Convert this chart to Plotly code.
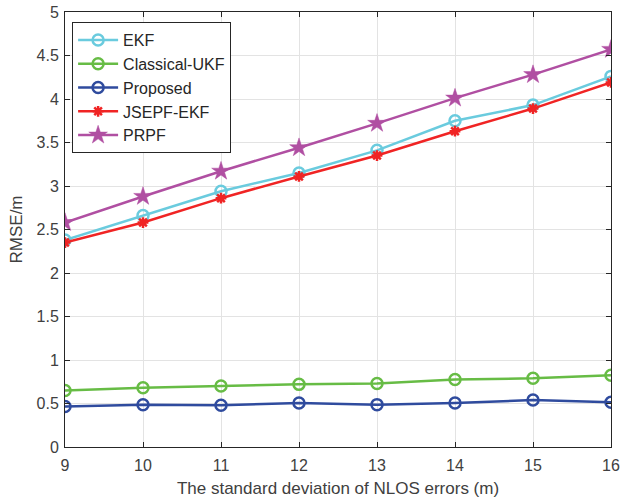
import plotly.graph_objects as go

x_vals = [9, 10, 11, 12, 13, 14, 15, 16]
ekf = [2.38, 2.66, 2.94, 3.15, 3.41, 3.75, 3.93, 4.26]
classical_ukf = [0.65, 0.68, 0.70, 0.72, 0.73, 0.775, 0.79, 0.825]
proposed = [0.465, 0.485, 0.48, 0.505, 0.487, 0.505, 0.54, 0.515]
jsepf_ekf = [2.35, 2.58, 2.86, 3.11, 3.35, 3.63, 3.89, 4.19]
prpf = [2.58, 2.88, 3.17, 3.44, 3.72, 4.01, 4.28, 4.57]

series = [
    ("EKF", ekf, "#6ACBDE", "circle-open", 11),
    ("Classical-UKF", classical_ukf, "#67BC45", "circle-open", 11),
    ("Proposed", proposed, "#2F4B9E", "circle-open", 11),
    ("JSEPF-EKF", jsepf_ekf, "#F02424", "asterisk-open", 9),
    ("PRPF", prpf, "#B04FA2", "star", 14),
]

fig = go.Figure()
for name, vals, color, sym, size in series:
    marker = dict(symbol=sym, size=size, color=color,
                  line=dict(color=color, width=2.5 if sym != "star" else 0.5))
    fig.add_trace(go.Scatter(x=x_vals, y=vals, name=name, mode="lines+markers",
                             line=dict(color=color, width=2.5), marker=marker))

axis_common = dict(showline=True, linecolor="#262626", linewidth=1, mirror="ticks",
                   ticks="inside", ticklen=5, tickcolor="#262626", automargin=False,
                   showgrid=True, gridcolor="#E3E3E3", gridwidth=1, zeroline=False,
                   tickfont=dict(family="Liberation Sans, Arial", size=16, color="#404040"))

fig.update_layout(
    width=621, height=502,
    margin=dict(l=65, r=10, t=12, b=55, autoexpand=False),
    paper_bgcolor="white", plot_bgcolor="white",
    font=dict(family="Liberation Sans, Arial", color="#262626"),
    xaxis=dict(range=[9, 16], dtick=1, ticklabelstandoff=4,
               title=dict(text="The standard deviation of NLOS errors (m)",
                          font=dict(size=17, color="#404040"), standoff=8),
               **axis_common),
    yaxis=dict(range=[0, 5], dtick=0.5, ticklabelstandoff=2,
               title=dict(text="RMSE/m", font=dict(size=17, color="#404040"), standoff=9),
               **axis_common),
    legend=dict(x=0.013, y=0.977, xanchor="left", yanchor="top",
                bgcolor="white", bordercolor="#262626", borderwidth=1,
                font=dict(size=16, color="#262626"), tracegroupgap=0,
                itemwidth=40),
    showlegend=True,
)

fig.write_html("out.html")
